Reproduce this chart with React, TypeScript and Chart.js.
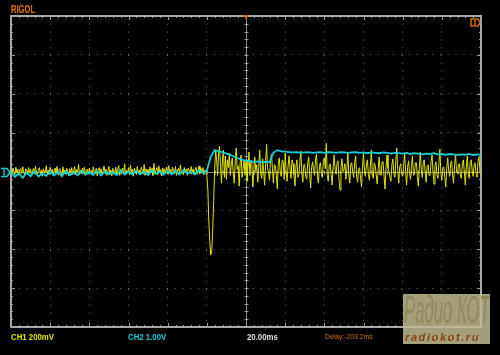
import React, { useEffect, useRef } from "react";
import { Chart, registerables } from "chart.js";

Chart.register(...registerables);

// Horizontal: 20 ms/div, 12 divisions, centred on the trigger point
const TIME_MIN_MS = -120;
const TIME_MAX_MS = 120;
const TIME_DIV_MS = 20;
// CH1: 200 mV/div, 8 divisions
const CH1_MIN_MV = -800;
const CH1_MAX_MV = 800;
const CH1_DIV_MV = 200;
// CH2: 1.00 V/div
const CH2_MIN_V = -4;
const CH2_MAX_V = 4;

// CH1 samples, one per 0.5 ms from -120 ms to +120 ms (mV)
const CH1_STEP_MS = 0.5;
const CH1_MV = [
  8, -12, 18, 2, -16, 22, -6, 12, -20, 5, 15, -10, 25, -4, -18, 14, 6, -14, 20, -8,
  12, -22, 4, 16, -10, 28, -6, -18, 10, 20, -12, 6, -24, 14, 2, -8, 30, -14, 8, -16,
  22, -6, 12, -20, 2, 18, -12, 26, -16, 6, 14, -4, -20, 24, -10, 8, -14, 16, 0, -22,
  14, -8, 20, -16, 4, 26, -12, 10, -6, 36, -18, 8, -10, 18, -4, 22, -20, 6, 12, -14,
  18, -10, 6, -18, 24, 0, -12, 16, -22, 10, 20, -6, 14, -16, 2, 28, -8, 12, -20, 4,
  26, -14, 8, -22, 16, 4, -10, 22, -16, 10, 30, -20, 12, -6, 18, -12, 40, -18, 6, -8,
  20, -16, 32, -4, 12, -24, 18, 2, -14, 26, -10, 8, -18, 22, 4, -12, 36, -20, 14, -6,
  10, -18, 24, -8, 16, -20, 42, -12, 6, 20, -16, 28, -4, 10, -22, 18, -6, 14, -10, 24,
  -14, 30, -8, 12, -18, 22, 2, -12, 26, -20, 8, 16, -6, 34, -10, 4, -16, 20, -4, 12,
  -20, 18, 6, -12, 26, -8, 14, -18, 10, 22, -14, 4, 28, -10, 16, -6, 20, -16, 8, -4,
  -20, -90, -250, -360, -430, -410, -300, -150, 10, 110, 60, -20, 90, 130, 20, -60, 70, 110, -30, 80,
  -40, 60, 20, 95, -20, 40, 70, -10, -60, 50, 120, 10, 30, -75, 45, 85, -30, 15, 60, -20,
  60, -50, 25, 100, -20, 55, 45, -80, 10, 75, 0, 35, -55, 20, 110, -10, -35, 65, 5, -70,
  40, 140, 20, -10, -45, 55, 90, 15, -60, 35, 30, -20, -90, 45, 70, -5, -25, 60, 50, -40,
  95, 5, -50, 30, 80, 15, -35, 60, 40, -15, -75, 25, 60, -30, -15, 50, 105, 0, -55, 35,
  35, -25, -40, 40, 75, -10, -85, 20, 50, 5, -20, 65, 90, -30, -60, 30, 45, -10, -30, 55,
  70, 15, 145, -20, -50, 30, 40, -15, -70, 25, 85, 10, -15, 45, 55, -40, -95, 20, 65, 0,
  10, 40, -40, 15, 100, -20, -60, 35, 45, -5, -30, 50, 80, -25, -55, 10, 20, -35, -80, 30,
  95, 5, -25, 40, 60, -15, -45, 25, 110, -10, -35, 45, 30, -20, -65, 15, 75, -5, -20, 50,
  50, -25, -90, 20, 85, 15, 0, -30, -50, 35, 65, -10, -30, 55, 120, 5, -60, 25, 40, -15,
  -25, 35, 90, 0, -70, 20, 55, -10, -40, 30, 80, -20, -15, 45, 45, -25, -75, 15, 100, 10,
  -30, 40, 60, -5, -55, 25, 35, -20, -20, 50, 85, 0, -65, 30, 50, -15, -35, 40, 115, -10,
  -45, 20, 25, -30, -80, 15, 70, 5, -25, 40, 55, -20, -60, 30, 90, 0, -10, 35, 40, -25,
  -35, 45, 60, -5, -70, 20, 80, -15, -35, 50, 60, 5, -25, 35, 45, -10, -30, 55, 75, -5,
  -20,
];

// CH2 samples, one per 2 ms from -120 ms to +120 ms (V)
const CH2_STEP_MS = 2;
const CH2_V = [
  -0.02, -0.14, -0.04, -0.16, -0.03, -0.12, 0.0, -0.13, -0.05, -0.11,
  0.0, -0.1, -0.02, -0.12, 0.01, -0.09, -0.03, -0.1, 0.02, -0.08,
  -0.01, -0.09, 0.02, -0.1, 0.0, -0.07, -0.02, -0.09, 0.03, -0.08,
  0.0, -0.08, 0.02, -0.07, -0.01, -0.09, 0.03, -0.06, 0.0, -0.08,
  0.02, -0.07, 0.01, -0.08, 0.03, -0.05, 0.0, -0.07, 0.04, -0.04,
  0.02, 0.38, 0.55, 0.52, 0.5, 0.46, 0.43, 0.38, 0.34, 0.3,
  0.28, 0.27, 0.25, 0.26, 0.24, 0.25, 0.24, 0.48, 0.55, 0.52,
  0.51, 0.5, 0.49, 0.5, 0.48, 0.49, 0.5, 0.48, 0.49, 0.5,
  0.48, 0.5, 0.49, 0.48, 0.5, 0.49, 0.48, 0.49, 0.5, 0.48,
  0.49, 0.47, 0.49, 0.48, 0.47, 0.49, 0.48, 0.46, 0.48, 0.47,
  0.46, 0.48, 0.45, 0.47, 0.46, 0.44, 0.46, 0.45, 0.47, 0.44,
  0.45, 0.43, 0.45, 0.44, 0.42, 0.44, 0.43, 0.45, 0.42, 0.44, 0.43,
];

const BRAND_LABEL = "RIGOL";
const CH1_LABEL = "CH1 200mV";
const CH2_LABEL = "CH2 1.00V";
const TIMEBASE_LABEL = "20.00ms";
const DELAY_LABEL = "Delay:-203.2ms";
const WATERMARK_TITLE = "Радио КОТ";
const WATERMARK_URL = "radiokot.ru";

const YELLOW = "#e2e200";
const CYAN = "#10d0d8";
const ORANGE = "#d26e00";

const scopeFrame = {
  id: "scopeFrame",
  beforeDatasetsDraw(chart: any) {
    const { ctx, chartArea: a, scales } = chart;
    const xs = scales.x;
    const ys = scales.y;
    ctx.save();
    const cx = Math.round(xs.getPixelForValue(0)) + 0.5;
    const cy = Math.round(ys.getPixelForValue(0)) + 0.5;
    ctx.strokeStyle = "#8c8c8c";
    ctx.lineWidth = 1;
    ctx.beginPath();
    ctx.moveTo(cx, a.top);
    ctx.lineTo(cx, a.bottom);
    ctx.moveTo(a.left, cy);
    ctx.lineTo(a.right, cy);
    ctx.stroke();

    ctx.strokeStyle = "#9a9a9a";
    ctx.beginPath();
    for (let t = TIME_MIN_MS; t <= TIME_MAX_MS; t += TIME_DIV_MS / 5) {
      const px = Math.round(xs.getPixelForValue(t)) + 0.5;
      const major = t % TIME_DIV_MS === 0;
      const len = major ? 4 : 2;
      ctx.moveTo(px, a.top);
      ctx.lineTo(px, a.top + len);
      ctx.moveTo(px, a.bottom);
      ctx.lineTo(px, a.bottom - len);
      ctx.moveTo(px, cy - 2);
      ctx.lineTo(px, cy + 2);
    }
    for (let v = CH1_MIN_MV; v <= CH1_MAX_MV; v += CH1_DIV_MV / 5) {
      const py = Math.round(ys.getPixelForValue(v)) + 0.5;
      const major = v % CH1_DIV_MV === 0;
      const len = major ? 4 : 2;
      ctx.moveTo(a.left, py);
      ctx.lineTo(a.left + len, py);
      ctx.moveTo(a.right, py);
      ctx.lineTo(a.right - len, py);
      ctx.moveTo(cx - 2, py);
      ctx.lineTo(cx + 2, py);
    }
    ctx.stroke();

    ctx.strokeStyle = "#a8a8a8";
    ctx.lineWidth = 2;
    ctx.strokeRect(a.left, a.top, a.right - a.left, a.bottom - a.top);
    ctx.restore();
  },
  afterDatasetsDraw(chart: any) {
    const { ctx, chartArea: a, scales } = chart;
    const cy = Math.round(scales.y.getPixelForValue(0)) + 0.5;
    const cx = Math.round(scales.x.getPixelForValue(0));
    ctx.save();
    // channel marker at left edge
    ctx.strokeStyle = CYAN;
    ctx.lineWidth = 1.5;
    ctx.beginPath();
    ctx.moveTo(1, cy - 4);
    ctx.lineTo(7, cy - 4);
    ctx.lineTo(10, cy);
    ctx.lineTo(7, cy + 4);
    ctx.lineTo(1, cy + 4);
    ctx.stroke();
    ctx.beginPath();
    ctx.moveTo(4, cy - 3);
    ctx.lineTo(4, cy + 3);
    ctx.stroke();
    // trigger level marker, right
    ctx.strokeStyle = ORANGE;
    ctx.lineWidth = 1.5;
    ctx.beginPath();
    ctx.moveTo(a.right - 10, 19);
    ctx.lineTo(a.right - 3, 19);
    ctx.lineTo(a.right - 1, 22.5);
    ctx.lineTo(a.right - 3, 26);
    ctx.lineTo(a.right - 10, 26);
    ctx.closePath();
    ctx.stroke();
    ctx.beginPath();
    ctx.moveTo(a.right - 6, 20);
    ctx.lineTo(a.right - 6, 25);
    ctx.stroke();
    // trigger position marker, top
    ctx.fillStyle = ORANGE;
    ctx.beginPath();
    ctx.moveTo(cx - 3, a.top - 1);
    ctx.lineTo(cx + 3, a.top - 1);
    ctx.lineTo(cx, a.top + 3);
    ctx.closePath();
    ctx.fill();
    ctx.restore();
  },
};

export default function App() {
  const canvasRef = useRef<HTMLCanvasElement | null>(null);

  useEffect(() => {
    document.body.style.margin = "0";
    document.body.style.background = "#000";
    const canvas = canvasRef.current;
    if (!canvas) return;
    const ch1 = CH1_MV.map((v, i) => ({ x: TIME_MIN_MS + i * CH1_STEP_MS, y: v }));
    const ch2 = CH2_V.map((v, i) => ({ x: TIME_MIN_MS + i * CH2_STEP_MS, y: v }));
    const gridStyle = {
      color: "#6a6a6a",
      lineWidth: 1,
      drawTicks: false,
    };
    const chart = new Chart(canvas, {
      type: "line",
      data: {
        datasets: [
          {
            label: "CH2",
            data: ch2,
            yAxisID: "y2",
            borderColor: CYAN,
            borderWidth: 1.8,
            pointRadius: 0,
            tension: 0,
            order: 1,
          },
          {
            label: "CH1",
            data: ch1,
            yAxisID: "y",
            borderColor: YELLOW,
            borderWidth: 1,
            pointRadius: 0,
            tension: 0,
            order: 2,
          },
        ],
      },
      options: {
        responsive: false,
        animation: false,
        events: [],
        layout: { padding: { left: 11, top: 16, right: 19, bottom: 28 } },
        plugins: {
          legend: { display: false },
          tooltip: { enabled: false },
        },
        scales: {
          x: {
            type: "linear",
            min: TIME_MIN_MS,
            max: TIME_MAX_MS,
            ticks: { display: false, stepSize: TIME_DIV_MS },
            grid: gridStyle,
            border: { display: false, dash: [1, 6.8] },
          },
          y: {
            type: "linear",
            min: CH1_MIN_MV,
            max: CH1_MAX_MV,
            ticks: { display: false, stepSize: CH1_DIV_MV },
            grid: gridStyle,
            border: { display: false, dash: [1, 6.8] },
          },
          y2: {
            type: "linear",
            display: false,
            min: CH2_MIN_V,
            max: CH2_MAX_V,
          },
        },
      },
      plugins: [scopeFrame],
    });
    return () => chart.destroy();
  }, []);

  const label = (text: string, left: number, color: string, size: number, extra: any = {}) => (
    <span
      style={{
        position: "absolute",
        left,
        top: 332,
        color,
        fontFamily: "'Liberation Sans', Arial, sans-serif",
        fontSize: size,
        lineHeight: "10px",
        whiteSpace: "nowrap",
        ...extra,
      }}
    >
      {text}
    </span>
  );

  return (
    <div
      style={{
        position: "absolute",
        left: 0,
        top: 0,
        width: 500,
        height: 355,
        background: "#000",
        overflow: "hidden",
      }}
    >
      <canvas ref={canvasRef} width={500} height={355} style={{ position: "absolute", left: 0, top: 0 }} />
      <span
        style={{
          position: "absolute",
          left: 11,
          top: 4,
          color: ORANGE,
          fontFamily: "'Liberation Sans', Arial, sans-serif",
          fontWeight: "bold",
          fontSize: 10,
          lineHeight: "12px",
          transform: "scaleX(0.76)",
          transformOrigin: "left top",
          textShadow: "0 0 1px #7a3a00",
        }}
      >
        {BRAND_LABEL}
      </span>
      {label(CH1_LABEL, 11, YELLOW, 8.5, { fontWeight: "bold", transform: "scaleX(0.92)", transformOrigin: "left top" })}
      {label(CH2_LABEL, 128, CYAN, 8.5, { fontWeight: "bold", transform: "scaleX(0.92)", transformOrigin: "left top" })}
      {label(TIMEBASE_LABEL, 247, "#e0e0e0", 8.5, { fontWeight: "bold", transform: "scaleX(0.92)", transformOrigin: "left top" })}
      {label(DELAY_LABEL, 325, ORANGE, 8, { transform: "scaleX(0.85)", transformOrigin: "left top" })}
      <div
        style={{
          position: "absolute",
          left: 403,
          top: 294,
          width: 87,
          height: 50,
          background: "rgba(192,186,146,0.85)",
          overflow: "hidden",
        }}
      >
        <span
          style={{
            position: "absolute",
            left: 1,
            top: -4,
            color: "#8e8b58",
            fontFamily: "'Liberation Sans', Arial, sans-serif",
            fontStyle: "italic",
            fontSize: 38,
            lineHeight: "40px",
            whiteSpace: "nowrap",
            transform: "scaleX(0.44)",
            transformOrigin: "left top",
          }}
        >
          {WATERMARK_TITLE}
        </span>
        <span
          style={{
            position: "absolute",
            left: 2,
            top: 37,
            color: "#8a4612",
            fontFamily: "'Liberation Sans', Arial, sans-serif",
            fontStyle: "italic",
            fontWeight: "bold",
            fontSize: 11,
            lineHeight: "12px",
            letterSpacing: "1.6px",
            whiteSpace: "nowrap",
          }}
        >
          {WATERMARK_URL}
        </span>
      </div>
    </div>
  );
}
